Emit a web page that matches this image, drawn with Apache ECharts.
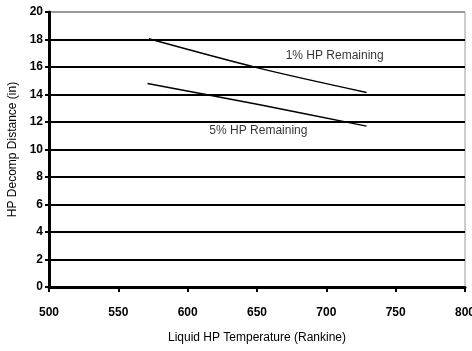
<!DOCTYPE html>
<html>
<head>
<meta charset="utf-8">
<script src="https://cdn.jsdelivr.net/npm/echarts@6/dist/echarts.min.js"></script>
<style>
  html, body { margin: 0; padding: 0; background: #fff; }
  #chart { width: 472px; height: 351px; }
</style>
</head>
<body>
<div id="chart"></div>
<script>
// Decomposition distance vs. liquid HP temperature
const xTicks = [500, 550, 600, 650, 700, 750, 800];
const yTicks = [0, 2, 4, 6, 8, 10, 12, 14, 16, 18, 20];

const onePctTemp = [572, 652, 729];
const onePctDist = [18.05, 15.9, 14.15];

const fivePctTemp = [571, 652, 729];
const fivePctDist = [14.8, 13.25, 11.7];

const seriesNames = ['1% HP Remaining', '5% HP Remaining'];
const labelAt = [[706, 16.8], [651, 11.35]];

const font = "'Liberation Sans', Arial, sans-serif";

const pairs = (xs, ys) => xs.map((x, i) => [x, ys[i]]);

// Gridlines are black except the top one, which is a light border
const splitColors = yTicks.map((v, i) => (i === yTicks.length - 1 ? '#9a9a9a' : '#000'));

const chart = echarts.init(document.getElementById('chart'));
chart.setOption({
  animation: false,
  backgroundColor: '#fff',
  grid: {
    left: 49, right: 7, top: 12, bottom: 64,
    outerBoundsMode: 'none', containLabel: false,
    show: true, borderColor: '#9a9a9a', borderWidth: 1, backgroundColor: 'transparent'
  },
  xAxis: {
    type: 'value',
    min: xTicks[0], max: xTicks[xTicks.length - 1], interval: 50,
    name: 'Liquid HP Temperature (Rankine)',
    nameLocation: 'middle', nameGap: 45,
    nameTextStyle: { fontFamily: font, fontSize: 12, color: '#000' },
    axisLine: { show: true, lineStyle: { color: '#000', width: 3 } },
    axisTick: { show: true, length: 5, lineStyle: { color: '#000', width: 2 } },
    axisLabel: { fontFamily: font, fontSize: 12, color: '#000', margin: 20, fontWeight: 'bold', hideOverlap: false },
    splitLine: { show: false }
  },
  yAxis: {
    type: 'value',
    min: yTicks[0], max: yTicks[yTicks.length - 1], interval: 2,
    name: 'HP Decomp Distance (in)',
    nameLocation: 'middle', nameGap: 23,
    nameTextStyle: { fontFamily: font, fontSize: 12, color: '#000' },
    axisLine: { show: true, lineStyle: { color: '#000', width: 3 } },
    axisTick: { show: true, length: 4, lineStyle: { color: '#000', width: 2 } },
    axisLabel: { fontFamily: font, fontSize: 12, color: '#000', margin: 6, fontWeight: 'bold' },
    splitLine: { show: true, lineStyle: { color: splitColors, width: 2 } }
  },
  series: [
    {
      name: seriesNames[0], type: 'line', data: pairs(onePctTemp, onePctDist),
      symbol: 'none', smooth: 0.3, lineStyle: { color: '#000', width: 1.5 }, z: 5
    },
    {
      name: seriesNames[1], type: 'line', data: pairs(fivePctTemp, fivePctDist),
      symbol: 'none', smooth: 0.3, lineStyle: { color: '#000', width: 1.5 }, z: 5
    },
    {
      type: 'scatter', symbolSize: 0, silent: true,
      data: labelAt.map((p, i) => ({ value: p, name: seriesNames[i] })),
      label: {
        show: true, position: 'inside', formatter: p => p.name,
        fontFamily: font, fontSize: 12, color: '#000'
      },
      z: 6
    }
  ]
});
</script>
</body>
</html>
